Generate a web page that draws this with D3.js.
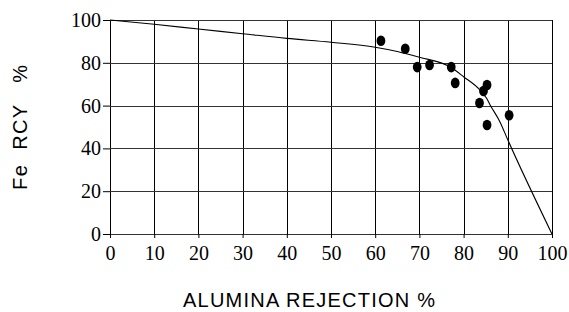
<!DOCTYPE html>
<html>
<head>
<meta charset="utf-8">
<script src="https://cdn.jsdelivr.net/npm/d3@7"></script>
<style>
  body { margin: 0; background: #fff; }
  svg { display: block; }
  svg .tick text { font-family: "Liberation Serif", "DejaVu Serif", Times, serif; font-size: 20px; }
  svg .title { font-family: "Liberation Sans", Arial, sans-serif; font-size: 20px; }
</style>
</head>
<body>
<svg id="chart" width="569" height="312"></svg>
<script>
// measured points (alumina rejection %, Fe recovery %)
var ptX = [61.3, 66.8, 69.5, 72.3, 77.2, 78.1, 85.3, 84.5, 83.6, 85.3, 90.3];
var ptY = [90.3, 86.6, 78.0, 79.0, 78.0, 70.6, 69.6, 66.8, 61.2, 50.9, 55.5];

// fitted curve
var curveX = [0, 10, 20, 30, 40, 50, 60, 65, 70, 77, 80, 83.7, 85.2, 86, 88.2, 90, 100];
var curveY = [100, 98, 95.8, 93.6, 91.4, 89.6, 87.3, 85.3, 82.6, 78, 73.5, 67.3, 63.4, 60.3, 52.5, 44, 0];

var xTicks = [0, 10, 20, 30, 40, 50, 60, 70, 80, 90, 100];
var yTicks = [0, 20, 40, 60, 80, 100];

var svg = d3.select("#chart");

var x = d3.scaleLinear().domain([0, 100]).range([110, 552]);
var y = d3.scaleLinear().domain([0, 100]).range([234, 20]);

var g = svg.append("g");

// grid
g.append("g").selectAll("line")
    .data(xTicks)
    .enter().append("line")
    .attr("x1", function(d) { return Math.round(x(d)) + 0.5 })
    .attr("x2", function(d) { return Math.round(x(d)) + 0.5 })
    .attr("y1", y(100)).attr("y2", y(0))
    .attr("stroke", "#000").attr("stroke-width", 1);

g.append("g").selectAll("line")
    .data(yTicks)
    .enter().append("line")
    .attr("y1", function(d) { return Math.round(y(d)) + 0.5 })
    .attr("y2", function(d) { return Math.round(y(d)) + 0.5 })
    .attr("x1", x(0)).attr("x2", x(100))
    .attr("stroke", "#333").attr("stroke-width", 1);

// axes
var xAxis = g.append("g")
    .attr("transform", "translate(0," + y(0) + ")")
    .call(d3.axisBottom(x).tickValues(xTicks).tickSize(4).tickSizeOuter(0).tickPadding(8));
var yAxis = g.append("g")
    .attr("transform", "translate(" + x(0) + ",0)")
    .call(d3.axisLeft(y).tickValues(yTicks).tickSize(7).tickSizeOuter(0).tickPadding(2));

[xAxis, yAxis].forEach(function(a) {
    a.attr("font-family", null).attr("font-size", null);
    a.select(".domain").remove();
    a.selectAll("line").attr("stroke", "#000");
    a.selectAll("text")
        .attr("fill", "#000")
        .style("font-family", "'Liberation Serif', 'DejaVu Serif', Times, serif");
});

// curve
var line = d3.line()
    .x(function(d) { return x(d[0]) })
    .y(function(d) { return y(d[1]) })
    .curve(d3.curveMonotoneX);

g.append("path")
    .datum(curveX.map(function(v, i) { return [v, curveY[i]] }))
    .attr("d", line)
    .attr("fill", "none")
    .attr("stroke", "#000")
    .attr("stroke-width", 1.1);

// points
g.append("g").selectAll("ellipse")
    .data(ptX.map(function(v, i) { return [v, ptY[i]] }))
    .enter().append("ellipse")
    .attr("cx", function(d) { return x(d[0]) })
    .attr("cy", function(d) { return y(d[1]) })
    .attr("rx", 4.4)
    .attr("ry", 5.3)
    .attr("fill", "#000");

// axis titles
svg.append("text")
    .attr("class", "title")
    .attr("x", 309).attr("y", 306.5)
    .attr("text-anchor", "middle")
    .attr("textLength", 252)
    .attr("lengthAdjust", "spacing")
    .text("ALUMINA REJECTION %");

svg.append("text")
    .attr("class", "title")
    .attr("transform", "translate(27,127.5) rotate(-90)")
    .attr("text-anchor", "middle")
    .attr("textLength", 125)
    .attr("lengthAdjust", "spacing")
    .style("white-space", "pre")
    .text("Fe  RCY   %");
</script>
</body>
</html>
